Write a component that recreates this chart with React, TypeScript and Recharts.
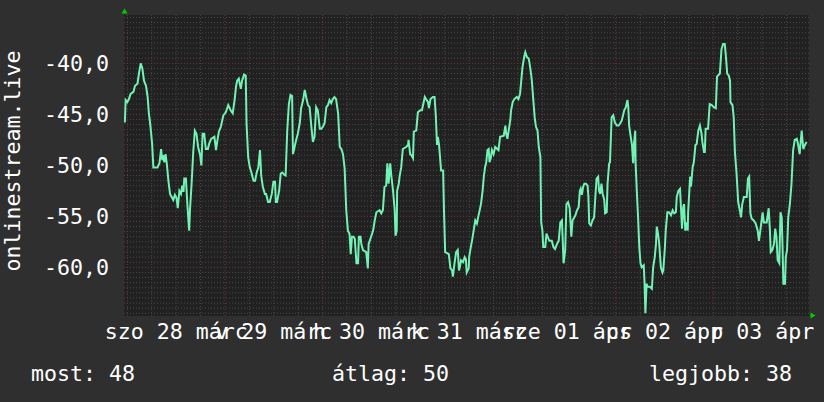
import React from "react";
import { LineChart, Line, XAxis, YAxis, CartesianGrid } from "recharts";

// time in hours from 28 márc 00:00
const hours = [
  -0.6, -0.4, 0.0, 0.4, 0.8, 1.5, 1.9, 2.5, 2.9, 3.3, 3.7, 4.1, 4.6, 5.0, 5.3, 5.7, 6.1, 6.4, 7.4, 7.9,
  8.3, 8.6, 8.8, 9.1, 9.4, 9.7, 10.1, 10.5, 10.9, 11.3, 11.7, 12.1, 12.4, 12.8, 13.2, 13.5, 13.8, 14.0, 14.4, 14.8,
  15.2, 15.4, 15.8, 16.2, 16.6, 17.0, 17.4, 17.9, 18.2, 18.5, 18.9, 19.3, 19.8, 20.1, 20.6, 21.4, 21.8, 22.2, 22.5, 23.0,
  23.6, 24.2, 24.8, 25.4, 25.9,
  26.4, 26.7, 27.0, 27.4, 27.9, 28.2, 28.7, 29.1, 29.3, 29.7, 30.1, 30.5, 31.0, 31.4, 31.8, 32.2, 32.6, 32.9, 33.3, 33.8,
  34.1, 34.6, 35.0, 35.5, 35.9, 36.3, 36.5, 36.8, 37.3, 37.7, 38.1, 38.5, 38.9, 39.3, 39.7, 40.1, 40.5, 40.7, 41.1, 41.5,
  41.9, 42.4, 42.7, 43.2, 43.6, 44.0, 44.4, 44.8, 45.2, 45.6, 46.0, 46.4, 46.8, 47.3, 47.7, 48.1, 48.5, 48.9, 49.3, 49.7,
  50.1, 50.5, 50.9, 51.3, 51.8, 52.2, 52.6, 53.0, 53.4, 53.8, 54.2, 54.6, 54.9, 55.2,
  55.6, 55.9, 56.3, 56.7, 56.9, 57.3, 57.5, 57.9, 58.7, 59.1, 59.3, 59.9, 60.4, 60.8, 61.2, 62.0, 62.4, 62.8, 63.2, 63.6,
  63.9, 64.2, 64.6, 64.9, 65.3, 65.7, 65.9, 66.2, 66.3, 66.7, 66.9, 67.3, 67.7, 68.5, 69.0, 69.1, 69.5, 69.8, 70.2, 70.4,
  71.0, 71.4, 72.0, 72.4, 73.1, 73.4, 73.9, 74.1, 74.5, 75.1, 75.5, 75.8, 76.1, 76.3, 76.6, 77.1, 77.6, 77.8, 78.1, 79.0,
  79.4, 79.8, 80.0, 80.4, 80.8, 81.2, 81.5, 81.7, 82.0, 82.5, 82.9, 83.2,
  83.4, 83.9, 84.0, 84.4, 84.7, 85.1, 85.5, 85.9, 86.2, 86.9, 87.3, 87.6, 87.9, 88.2, 88.5, 88.8, 89.0, 89.3, 89.6, 90.0,
  90.4, 91.2, 91.6, 92.5, 92.9, 93.1, 93.4, 93.7, 94.1, 94.3, 94.7, 95.1, 95.7, 96.1, 96.5, 96.8, 97.1, 97.5, 97.8, 98.2,
  98.6, 98.8, 99.2, 99.4, 99.7, 100.1, 100.4, 100.8, 101.1, 101.5, 101.7, 102.0, 102.2, 102.7, 103.0, 103.3, 103.7, 104.3, 104.7, 105.1,
  105.6, 106.0, 106.4, 106.8, 107.2, 107.6, 107.9, 108.3, 108.7, 109.1, 109.4, 110.1, 110.5, 110.9, 111.2,
  111.4, 111.7, 112.0, 112.3, 112.7, 113.1, 113.3, 113.5, 113.9, 114.3, 114.7, 115.0, 115.3, 115.7, 115.9, 116.2, 116.5, 116.8, 117.2, 117.4,
  117.8, 118.0, 118.4, 118.6, 119.0, 119.4, 119.8, 120.3, 120.7, 121.1, 121.5, 122.1, 122.5, 122.9, 123.1, 123.3, 123.7, 124.0, 124.3, 124.5,
  124.8, 124.9, 125.2, 125.5, 125.8, 126.1, 126.4, 126.9, 127.1, 127.3, 127.6, 127.8, 128.4, 128.9, 129.2, 129.6, 129.9, 130.1, 130.4, 130.7,
  131.1, 131.5, 131.7, 132.1, 132.3, 132.7, 133.1, 133.6, 134.0, 134.4, 134.8, 135.0, 135.4, 135.8, 136.0, 136.3, 136.6, 136.8, 137.1, 137.4,
  137.7, 137.8, 138.1, 138.3, 138.5, 138.9, 139.2,
  139.6, 139.9, 140.3, 140.7, 141.1, 141.3, 141.7, 141.9, 142.1, 142.7, 143.0, 143.1, 143.6, 144.1, 144.6, 144.9, 145.6, 146.0, 146.4, 146.8,
  147.1, 147.4, 147.8, 148.1, 148.2, 148.7, 149.0, 149.3, 149.7, 150.1, 150.5, 150.8, 151.1, 151.5, 152.2, 152.5, 152.8, 153.1, 153.4, 153.9,
  154.4, 154.9, 155.2, 155.6, 156.1, 156.4, 157.1, 157.6, 157.9, 158.1, 158.5, 158.9, 159.2, 159.5, 159.8, 160.2, 160.5, 160.8, 161.0, 161.2,
  161.6, 161.8, 162.1, 162.4, 162.8, 163.2, 163.6, 164.0, 164.5, 164.8, 165.2, 165.7, 166.1, 166.5, 166.9,
];

const signal = [
  -45.8, -43.6, -43.8, -43.5, -43.0, -42.8, -42.2, -42.0, -40.9, -40.0, -40.5, -41.7, -42.2, -43.3, -44.9, -46.2, -47.9, -50.2, -50.2, -49.8,
  -48.4, -49.5, -49.0, -49.7, -48.9, -49.8, -51.5, -52.8, -53.1, -53.4, -52.9, -53.2, -54.2, -52.5, -52.8, -52.0, -52.6, -51.3, -51.3, -54.1,
  -56.4, -54.4, -51.8, -48.7, -46.6, -46.9, -48.2, -49.0, -50.0, -46.9, -46.9, -48.4, -48.4, -47.9, -47.4, -47.2, -48.5, -47.4, -46.7, -46.2,
  -45.1, -44.8, -44.1, -44.6, -44.9,
  -43.5, -42.3, -41.7, -41.5, -42.5, -41.7, -41.1, -41.2, -45.9, -49.2, -50.2, -50.7, -51.5, -51.5, -50.7, -50.2, -48.5, -51.0, -52.1, -52.8,
  -52.8, -53.6, -53.6, -52.8, -51.6, -51.6, -53.6, -53.6, -52.5, -50.8, -50.7, -50.9, -51.0, -46.6, -44.0, -43.1, -43.2, -48.9, -48.2, -47.5,
  -46.9, -45.8, -44.4, -43.6, -42.6, -43.4, -44.1, -44.3, -46.1, -47.7, -47.2, -44.3, -44.6, -46.4, -46.4, -46.2, -45.8, -44.3, -44.1, -43.6,
  -43.9, -43.5, -43.3, -43.5, -44.9, -48.2, -48.4, -48.9, -50.3, -54.4, -56.4, -56.7, -58.7, -57.0,
  -57.0, -57.2, -59.6, -59.6, -57.0, -57.0, -57.7, -58.3, -58.5, -60.1, -57.7, -57.0, -56.4, -55.4, -54.6, -54.4, -54.7, -54.4, -52.1, -52.0,
  -49.8, -51.8, -49.8, -51.1, -52.5, -54.4, -56.9, -56.4, -52.5, -51.8, -51.1, -50.2, -48.4, -48.2, -48.0, -47.5, -48.9, -49.0, -49.3, -46.7,
  -46.6, -44.8, -44.6, -44.6, -43.3, -43.5, -43.8, -44.4, -43.5, -43.3, -43.3, -45.1, -48.0, -47.2, -48.0, -50.5, -50.5, -54.2, -58.5, -58.7,
  -60.1, -60.3, -60.9, -59.6, -58.5, -58.3, -60.3, -60.0, -59.3, -59.5, -59.0, -59.2,
  -60.5, -60.1, -59.0, -58.0, -57.4, -56.4, -55.4, -55.7, -55.1, -53.8, -52.5, -51.1, -50.2, -49.7, -48.5, -48.4, -49.7, -49.3, -48.5, -48.9,
  -48.2, -48.5, -47.2, -47.1, -46.1, -46.9, -47.4, -46.6, -45.6, -44.6, -43.8, -43.5, -43.3, -43.5, -43.0, -41.7, -40.4, -39.4, -38.9, -39.4,
  -39.5, -39.9, -41.0, -41.7, -43.3, -45.3, -46.2, -46.6, -48.2, -49.2, -55.6, -56.4, -58.0, -58.0, -56.7, -57.0, -57.4, -57.4, -58.0, -58.2,
  -57.7, -57.4, -55.6, -55.4, -59.6, -58.3, -53.8, -53.6, -54.2, -57.0, -55.4, -54.9, -54.4, -54.1, -52.5,
  -52.3, -52.9, -52.1, -51.8, -51.8, -52.0, -53.1, -55.7, -55.9, -55.4, -55.1, -53.1, -51.3, -51.1, -52.5, -52.8, -51.8, -52.8, -53.4, -54.7,
  -54.6, -51.8, -49.8, -49.7, -45.3, -45.1, -45.8, -46.1, -46.1, -45.9, -45.6, -44.6, -44.3, -43.6, -44.3, -46.1, -47.2, -48.0, -49.8, -47.9,
  -46.6, -49.8, -52.6, -55.1, -58.0, -59.6, -60.0, -59.8, -61.6, -64.5, -61.6, -61.9, -61.9, -62.1, -60.0, -59.0, -57.7, -56.0, -56.7, -57.7,
  -60.0, -60.5, -60.3, -58.0, -56.4, -54.6, -54.6, -54.9, -54.4, -54.7, -54.6, -53.1, -52.5, -52.3, -53.8, -56.2, -54.1, -53.8, -56.4, -55.6,
  -56.4, -54.6, -52.5, -51.1, -52.1, -50.2, -49.7,
  -48.0, -47.9, -46.6, -46.1, -46.9, -47.7, -48.7, -48.7, -46.4, -46.4, -44.6, -44.0, -44.1, -44.3, -44.4, -41.3, -41.0, -38.6, -38.1, -38.1,
  -39.4, -41.0, -41.2, -41.7, -43.8, -44.1, -45.3, -48.7, -50.8, -53.6, -54.4, -55.1, -53.8, -53.1, -53.1, -51.3, -51.1, -54.7, -55.2, -55.4,
  -55.7, -56.4, -57.4, -56.2, -54.6, -55.6, -55.6, -54.2, -56.4, -58.5, -58.3, -57.7, -56.2, -57.0, -59.3, -59.6, -54.6, -55.1, -58.0, -61.6,
  -61.6, -59.0, -58.3, -55.1, -53.8, -51.8, -48.5, -47.5, -47.4, -47.9, -48.9, -46.6, -48.4, -48.0, -47.7,
];

const dayTicks = [12, 36, 60, 84, 108, 132, 156];
const dayLabels = ["szo 28 márc", "v 29 márc", "h 30 márc", "k 31 márc", "sze 01 ápr", "cs 02 ápr", "p 03 ápr"];
const valueTicks = [-60, -55, -50, -45, -40];
const legendItems = [
  { text: "most: 48", x: 31 },
  { text: "átlag: 50", x: 332 },
  { text: "legjobb: 38", x: 649 },
];
const axisTitle = "onlinestream.live";

const X_DOMAIN: [number, number] = [-0.81, 167.5];
const Y_DOMAIN: [number, number] = [-64.77, -35.26];

const minorY: number[] = [];
for (let v = -64.5; v <= -35.5; v += 0.5) if (Math.abs(v % 5) > 0.01) minorY.push(v);
const majorY = valueTicks;
const minorX: number[] = [];
for (let h = 0; h <= 168; h += 6) if (h % 24 !== 0) minorX.push(h);
const majorX = [0, 24, 48, 72, 96, 120, 144];

const FONT = "'DejaVu Sans Mono', monospace";
const FS = 21.6;
const TEXT = "#ffffff";

const rows = hours.map((h, i) => ({ h, v: signal[i] }));

const DayTick = (props: any) => {
  const { x, y, payload } = props;
  const idx = dayTicks.indexOf(payload.value);
  return (
    <text x={x} y={y + 23} textAnchor="middle" fill={TEXT} fontSize={FS} fontFamily={FONT}>
      {dayLabels[idx]}
    </text>
  );
};

export default function App() {
  return (
    <div style={{ position: "fixed", left: 0, top: 0, width: 824, height: 402, background: "#2f2f2f" }}>
      <LineChart
        width={824}
        height={402}
        data={rows}
        margin={{ top: 15, right: 15, bottom: 0, left: 0 }}
      >
        <CartesianGrid
          fill="#212121"
          stroke="#4a4a4a"
          strokeDasharray="1 2"
          horizontalValues={minorY}
          verticalValues={minorX}
        />
        <CartesianGrid
          fill="none"
          stroke="#6b3a3a"
          strokeDasharray="1 2"
          horizontalValues={majorY}
          verticalValues={majorX}
        />
        <XAxis
          dataKey="h"
          type="number"
          domain={X_DOMAIN}
          allowDataOverflow
          ticks={dayTicks}
          tick={<DayTick />}
          tickLine={false}
          axisLine={false}
          tickSize={0}
          tickMargin={0}
          height={86}
          interval={0}
        />
        <YAxis
          type="number"
          domain={Y_DOMAIN}
          allowDataOverflow
          ticks={valueTicks}
          tickFormatter={(v: number) => v.toFixed(1).replace(".", ",")}
          tick={{ fill: TEXT, fontSize: FS, fontFamily: FONT }}
          tickLine={false}
          axisLine={false}
          tickSize={0}
          tickMargin={15}
          width={124}
          interval={0}
          label={{
            content: () => (
              <text
                x={20}
                y={161}
                transform="rotate(-90 20 161)"
                textAnchor="middle"
                fill={TEXT}
                fontSize={FS}
                fontFamily={FONT}
              >
                {axisTitle}
              </text>
            ),
          }}
        />
        <Line
          type="linear"
          dataKey="v"
          stroke="#72f2b4"
          strokeWidth={2}
          dot={false}
          isAnimationActive={false}
        />
      </LineChart>
      <svg
        width={824}
        height={402}
        style={{ position: "absolute", left: 0, top: 0, pointerEvents: "none" }}
      >
        {legendItems.map((it) => (
          <text key={it.text} x={it.x} y={381} fill={TEXT} fontSize={FS} fontFamily={FONT}>
            {it.text}
          </text>
        ))}
        <polygon points="121.5,13.5 127.5,13.5 124.5,8.5" fill="#00cc00" />
        <polygon points="810.5,312.5 810.5,318.5 815.5,315.5" fill="#00cc00" />
      </svg>
    </div>
  );
}
